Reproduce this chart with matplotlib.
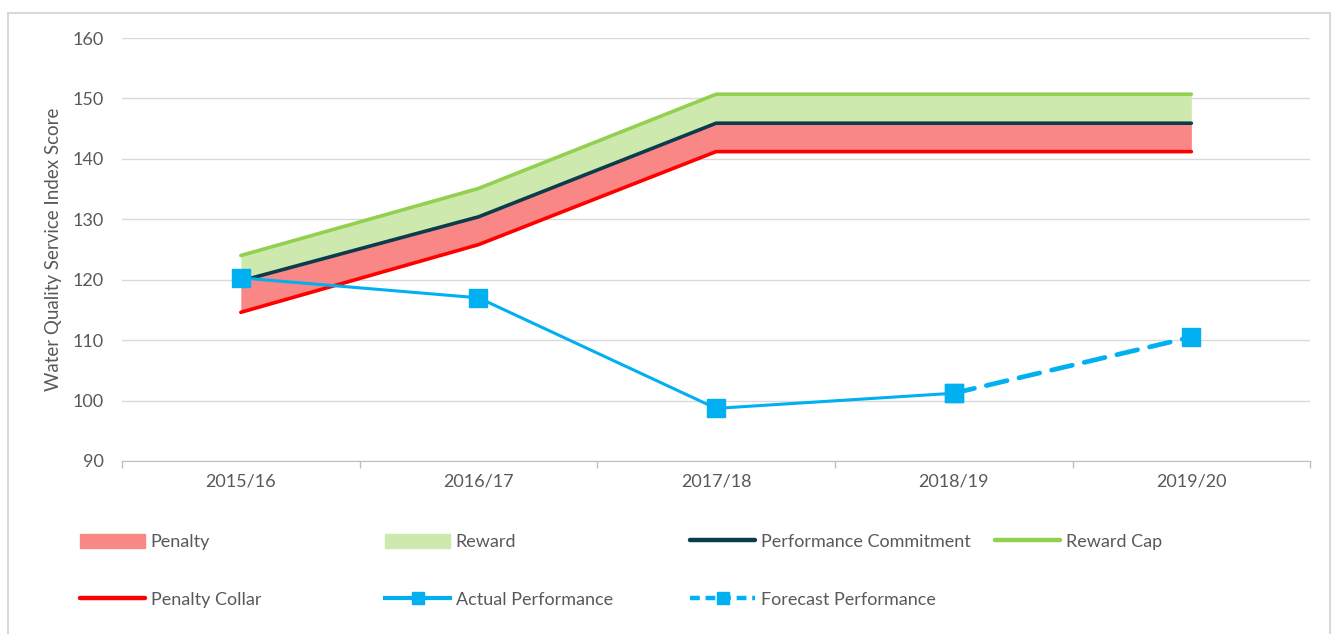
import matplotlib.pyplot as plt
import matplotlib.patches as mpatches
from matplotlib.lines import Line2D
import numpy as np

plt.rcParams['font.family'] = ['Lato', 'DejaVu Sans']

years = ["2015/16", "2016/17", "2017/18", "2018/19", "2019/20"]
reward_cap = [124.0, 135.1, 150.7, 150.7, 150.7]
commitment = [119.8, 130.4, 145.9, 145.9, 145.9]
penalty_collar = [114.6, 125.8, 141.2, 141.2, 141.2]
actual = [120.3, 117.0, 98.7, 101.2, np.nan]
forecast = [np.nan, np.nan, np.nan, 101.2, 110.5]

grey = "#595959"
c_cap = "#92d050"
c_pc = "#0b3c4d"
c_collar = "#ff0000"
c_pen = "#f88785"
c_rew = "#cde9ad"
c_act = "#00b0f0"

fig = plt.figure(figsize=(13.38, 6.34), dpi=100)
ax = fig.add_axes([0.0912, 0.273, 0.888, 0.667])

x = np.arange(len(years))
ax.fill_between(x, penalty_collar, commitment, color=c_pen, lw=0, zorder=2)
ax.fill_between(x, commitment, reward_cap, color=c_rew, lw=0, zorder=2)
ax.plot(x, reward_cap, color=c_cap, lw=2.6, solid_capstyle='round', zorder=3)
ax.plot(x, penalty_collar, color=c_collar, lw=2.6, solid_capstyle='round', zorder=3)
ax.plot(x, commitment, color=c_pc, lw=2.6, solid_capstyle='round', zorder=3)
ax.plot(x, forecast, color=c_act, lw=3.4, ls=(0, (4.5, 2.6)), marker='s', ms=12.5,
        zorder=4, dash_capstyle='round')
ax.plot(x, actual, color=c_act, lw=2.2, marker='s', ms=12.5, zorder=5)

ax.set_xlim(-0.5, 4.5)
ax.set_ylim(90, 160)
ax.set_yticks(range(90, 161, 10))
ax.set_xticks(x)
ax.set_xticklabels(years)
ax.set_xticks(np.arange(-0.5, 4.6, 1), minor=True)
ax.tick_params(axis='x', which='major', length=0, pad=9, labelsize=13, labelcolor=grey)
ax.tick_params(axis='x', which='minor', length=5, color="#bfbfbf", width=1)
ax.tick_params(axis='y', length=0, pad=13, labelsize=13, labelcolor=grey)
ax.grid(axis='y', color="#d9d9d9", lw=1)
ax.set_axisbelow(True)
for s in ['top', 'right', 'left']:
    ax.spines[s].set_visible(False)
ax.spines['bottom'].set_color("#bfbfbf")
ax.set_ylabel("Water Quality Service Index Score", fontsize=13.5, color=grey, labelpad=8)

# legend, laid out in Excel style columns
h_pen = mpatches.Patch(color=c_pen)
h_rew = mpatches.Patch(color=c_rew)
h_pc = Line2D([], [], color=c_pc, lw=3.2, solid_capstyle='round')
h_cap = Line2D([], [], color=c_cap, lw=3.2, solid_capstyle='round')
h_col = Line2D([], [], color=c_collar, lw=3.2, solid_capstyle='round')
h_act = Line2D([], [], color=c_act, lw=3, marker='s', ms=8)
h_fc = Line2D([], [], color=c_act, lw=3.2, ls=(0, (2.2, 1.3)), marker='s', ms=8)

columns = [
    (0.06, [h_pen, h_col], ["Penalty", "Penalty Collar"]),
    (0.288, [h_rew, h_act], ["Reward", "Actual Performance"]),
    (0.516, [h_pc, h_fc], ["Performance Commitment", "Forecast Performance"]),
    (0.744, [h_cap], ["Reward Cap"]),
]
for xpos, hs, ls in columns:
    fig.legend(hs, ls, loc='upper left', bbox_to_anchor=(xpos, 0.158),
               frameon=False, fontsize=13, labelcolor=grey,
               handlelength=3.6, handleheight=0.8, handletextpad=0.3,
               labelspacing=2.3, borderaxespad=0, borderpad=0)

fig.patches.append(mpatches.Rectangle((0.006, -0.01), 0.988, 0.99, transform=fig.transFigure,
                                      fill=False, edgecolor="#d9d9d9", lw=1.5))

fig.savefig("out.png", dpi=100)
